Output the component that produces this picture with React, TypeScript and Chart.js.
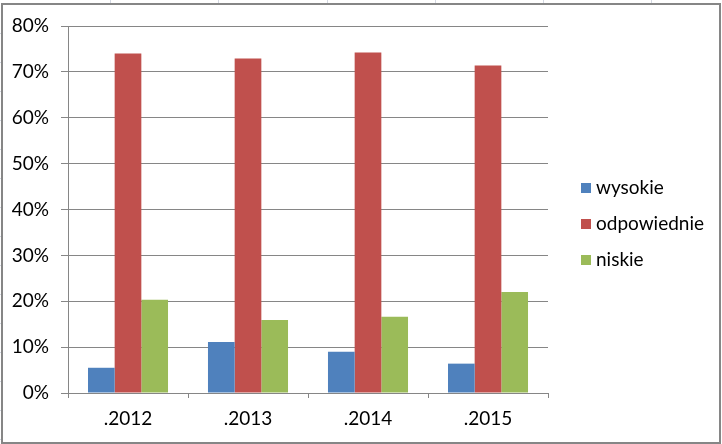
import React, { useEffect, useRef } from "react";
import { Chart, registerables } from "chart.js";

Chart.register(...registerables);

const categories = [".2012", ".2013", ".2014", ".2015"];
const seriesNames = ["wysokie", "odpowiednie", "niskie"];
const wysokie = [5.5, 11.1, 9.0, 6.4];
const odpowiednie = [74.0, 72.9, 74.2, 71.4];
const niskie = [20.3, 15.9, 16.6, 22.0];
const colors = ["#4F81BD", "#C0504D", "#9BBB59"];
const yMax = 80;
const yStep = 10;

const FONT_FAMILY = "Lato, 'Noto Sans', sans-serif";
const FONT_SIZE = 19;

const decorPlugin = {
  id: "decor",
  beforeDraw(chart: any) {
    const ctx = chart.ctx;
    ctx.save();
    ctx.fillStyle = "#ffffff";
    ctx.fillRect(0, 0, chart.width, chart.height);
    // faint spreadsheet cell lines outside the chart frame
    ctx.strokeStyle = "#d4d8e2";
    ctx.lineWidth = 1;
    [110, 218, 327, 435, 543, 651].forEach((x) => {
      ctx.beginPath();
      ctx.moveTo(x + 0.5, 0);
      ctx.lineTo(x + 0.5, 3);
      ctx.stroke();
    });
    for (let y = 33; y < 444; y += 29) {
      ctx.beginPath();
      ctx.moveTo(0, y + 0.5);
      ctx.lineTo(1, y + 0.5);
      ctx.stroke();
    }
    ctx.restore();
  },
  afterDraw(chart: any) {
    const ctx = chart.ctx;
    ctx.save();
    // legend
    const ds = chart.data.datasets;
    const centers = [188, 224, 260];
    ctx.font = `${FONT_SIZE}px ${FONT_FAMILY}`;
    ctx.textBaseline = "middle";
    ctx.textAlign = "left";
    ds.forEach((d: any, i: number) => {
      ctx.fillStyle = d.backgroundColor;
      ctx.fillRect(581, centers[i] - 5, 10, 10);
      ctx.fillStyle = "#000000";
      ctx.fillText(d.label, 596, centers[i]);
    });
    // frame
    ctx.strokeStyle = "#868686";
    ctx.lineWidth = 2;
    ctx.strokeRect(2, 4, 718, 439);
    ctx.restore();
  },
};

export default function App() {
  const ref = useRef<HTMLCanvasElement | null>(null);

  useEffect(() => {
    if (!ref.current) return;
    const font = { family: FONT_FAMILY, size: FONT_SIZE };
    const chart = new Chart(ref.current, {
      type: "bar",
      data: {
        labels: categories,
        datasets: [wysokie, odpowiednie, niskie].map((vals, i) => ({
          label: seriesNames[i],
          data: vals,
          backgroundColor: colors[i],
          borderWidth: 0,
          barPercentage: 1,
          categoryPercentage: 0.667,
        })),
      },
      options: {
        responsive: false,
        animation: false,
        devicePixelRatio: 1,
        layout: { padding: { top: 26, right: 174, bottom: 0, left: 0 } },
        plugins: {
          legend: { display: false },
          tooltip: { enabled: false },
        },
        scales: {
          x: {
            grid: {
              drawOnChartArea: false,
              drawTicks: true,
              tickLength: 5,
              color: "#868686",
              offset: true,
            },
            border: { color: "#868686" },
            ticks: { font, color: "#000000", padding: 9 },
            afterFit: (s: any) => {
              s.height = 51;
            },
          },
          y: {
            min: 0,
            max: yMax,
            ticks: {
              stepSize: yStep,
              font,
              color: "#000000",
              padding: 12,
              callback: (v: any) => `${v}%`,
            },
            grid: { color: "#868686", tickLength: 7 },
            border: { color: "#868686" },
            afterFit: (s: any) => {
              s.width = 68;
            },
          },
        },
      },
      plugins: [decorPlugin],
    });
    return () => chart.destroy();
  }, []);

  return (
    <div style={{ position: "absolute", top: 0, left: 0, width: 722, height: 444 }}>
      <canvas ref={ref} width={722} height={444} style={{ display: "block", width: 722, height: 444 }} />
    </div>
  );
}
